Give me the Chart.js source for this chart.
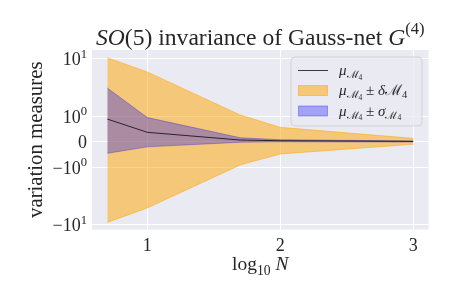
<!DOCTYPE html>
<html>
<head>
<meta charset="utf-8">
<script src="https://cdn.jsdelivr.net/npm/chart.js@4.4.0/dist/chart.umd.min.js"></script>
<style>
  body { margin: 0; background: #fff; }
</style>
</head>
<body>
<canvas id="chart" width="455" height="304"></canvas>
<script>
// log10 N for N = 5, 10, 50, 100, 1000
const logN = [0.699, 1, 1.699, 2, 3];
const mu = [0.89, 0.37, 0.067, 0.04, 0.016];
const deltaUpper = [10.4, 5.9, 1.05, 0.565, 0.134];
const deltaLower = [-9.1, -5.1, -0.91, -0.48, -0.10];
const sigmaUpper = [3.1, 0.95, 0.157, 0.08, 0.03];
const sigmaLower = [-0.455, -0.20, -0.02, 0.0, -0.01];

const xTicks = [1, 2, 3];
const yTicks = [-10, -1, 0, 1, 10];

const FONT = '"Liberation Serif", "DejaVu Serif", serif';
const TEXT = '#262626';

// symlog transform, linthresh 1
const LINSCALE = 0.4435;
function symlog(v) {
  const a = Math.abs(v);
  return a <= 1 ? v * LINSCALE : Math.sign(v) * (LINSCALE + Math.log10(a));
}
function symexp(t) {
  const a = Math.abs(t);
  return a <= LINSCALE ? t / LINSCALE : Math.sign(t) * Math.pow(10, a - LINSCALE);
}

class SymlogScale extends Chart.LinearScale {
  configure() {
    super.configure();
    this._tMin = symlog(this.min);
    this._tMax = symlog(this.max);
  }
  getPixelForValue(value) {
    return this.getPixelForDecimal((symlog(value) - this._tMin) / (this._tMax - this._tMin));
  }
  getValueForPixel(pixel) {
    return symexp(this._tMin + this.getDecimalForPixel(pixel) * (this._tMax - this._tMin));
  }
}
SymlogScale.id = 'symlog';
SymlogScale.defaults = Chart.LinearScale.defaults;
Chart.register(SymlogScale);

const pts = ys => logN.map((x, i) => ({ x: x, y: ys[i] }));

// rich text: [text, italic, scale, shift(em)]
function segFont(s, size) {
  return (s[1] ? 'italic ' : '') + (size * (s[2] || 1)) + 'px ' + FONT;
}
function drawRich(ctx, segs, x, y, size, align) {
  let w = 0;
  segs.forEach(s => { ctx.font = segFont(s, size); w += ctx.measureText(s[0]).width; });
  let cx = align === 'center' ? x - w / 2 : align === 'right' ? x - w : x;
  ctx.textAlign = 'left';
  ctx.textBaseline = 'alphabetic';
  segs.forEach(s => {
    ctx.font = segFont(s, size);
    ctx.fillText(s[0], cx, y + (s[3] || 0) * size);
    cx += ctx.measureText(s[0]).width;
  });
}

const M4 = [['\u2133', false, 0.7, 0.2], ['4', false, 0.5, 0.32]];
const yLabels = {
  '10': [['10'], ['1', false, 0.7, -0.42]],
  '1': [['10'], ['0', false, 0.7, -0.42]],
  '0': [['0']],
  '-1': [['\u221210'], ['0', false, 0.7, -0.42]],
  '-10': [['\u221210'], ['1', false, 0.7, -0.42]]
};

const decorations = {
  id: 'decorations',
  beforeDraw(chart) {
    const { ctx, chartArea: a } = chart;
    ctx.save();
    ctx.fillStyle = '#EAEAF2';
    ctx.fillRect(a.left, a.top, a.right - a.left, a.bottom - a.top);
    ctx.restore();
  },
  afterDraw(chart) {
    const { ctx, chartArea: a } = chart;
    const xs = chart.scales.x, ys = chart.scales.y;
    ctx.save();
    ctx.fillStyle = TEXT;

    // title
    drawRich(ctx, [['SO', true], ['(5) invariance of Gauss-net '], ['G', true], ['(4)', false, 0.7, -0.45]],
      (a.left + a.right) / 2, 45, 23.6, 'center');

    // tick labels
    xTicks.forEach(v => drawRich(ctx, [[String(v)]], xs.getPixelForValue(v), 250.5, 18, 'center'));
    yTicks.forEach(v => drawRich(ctx, yLabels[String(v)], 87, ys.getPixelForValue(v) + 6.5, 18, 'right'));

    // axis titles
    drawRich(ctx, [['log'], ['10', false, 0.7, 0.25], [' '], ['N', true]], (a.left + a.right) / 2, 270, 19.5, 'center');
    ctx.save();
    ctx.translate(35, (a.top + a.bottom) / 2);
    ctx.rotate(-Math.PI / 2);
    drawRich(ctx, [['variation measures']], 0, 6.5, 20.8, 'center');
    ctx.restore();

    // legend
    const lx = 291, ly = 57, lw = 131, lh = 69;
    ctx.beginPath();
    ctx.roundRect(lx, ly, lw, lh, 4);
    ctx.fillStyle = 'rgba(234,234,242,0.8)';
    ctx.fill();
    ctx.strokeStyle = 'rgba(204,204,204,0.8)';
    ctx.lineWidth = 1;
    ctx.stroke();

    ctx.strokeStyle = 'rgba(0,0,0,0.75)';
    ctx.beginPath();
    ctx.moveTo(298, 70.5);
    ctx.lineTo(328, 70.5);
    ctx.stroke();

    ctx.fillStyle = 'rgba(255,165,0,0.5)';
    ctx.strokeStyle = 'rgba(255,165,0,0.5)';
    ctx.fillRect(298.5, 85.5, 29, 10);
    ctx.strokeRect(298.5, 85.5, 29, 10);
    ctx.fillStyle = 'rgba(0,0,255,0.3)';
    ctx.strokeStyle = 'rgba(0,0,255,0.3)';
    ctx.fillRect(298.5, 106, 29, 10);
    ctx.strokeRect(298.5, 106, 29, 10);

    ctx.fillStyle = TEXT;
    drawRich(ctx, [['\u03bc', true]].concat(M4), 339, 75, 15, 'left');
    drawRich(ctx, [['\u03bc', true]].concat(M4, [[' \u00b1 '], ['\u03b4', true], ['\u2133'], ['4', false, 0.7, 0.2]]), 339, 95, 15, 'left');
    drawRich(ctx, [['\u03bc', true]].concat(M4, [[' \u00b1 '], ['\u03c3', true]], M4), 339, 115.5, 15, 'left');
    ctx.restore();
  }
};

new Chart(document.getElementById('chart'), {
  type: 'line',
  data: {
    datasets: [
      { data: pts(mu), borderColor: 'rgba(0,0,0,0.75)', borderWidth: 1, fill: false, order: 0 },
      { data: pts(sigmaUpper), borderColor: 'rgba(0,0,255,0.3)', backgroundColor: 'rgba(0,0,255,0.3)', borderWidth: 1, fill: 2, order: 1 },
      { data: pts(sigmaLower), borderColor: 'rgba(0,0,255,0.3)', borderWidth: 1, fill: false, order: 2 },
      { data: pts(deltaUpper), borderColor: 'rgba(255,165,0,0.5)', backgroundColor: 'rgba(255,165,0,0.5)', borderWidth: 1, fill: 4, order: 3 },
      { data: pts(deltaLower), borderColor: 'rgba(255,165,0,0.5)', borderWidth: 1, fill: false, order: 4 }
    ]
  },
  options: {
    responsive: false,
    animation: false,
    elements: { point: { radius: 0 }, line: { tension: 0 } },
    layout: { padding: { left: 92, right: 26.5, top: 50, bottom: 74.5 } },
    plugins: {
      legend: { display: false },
      tooltip: { enabled: false },
      filler: { drawTime: 'beforeDatasetsDraw' }
    },
    scales: {
      x: {
        type: 'linear',
        min: 0.584,
        max: 3.115,
        afterBuildTicks: s => { s.ticks = xTicks.map(v => ({ value: v })); },
        ticks: { display: false },
        grid: { color: '#ffffff', lineWidth: 1, drawTicks: false },
        border: { display: false }
      },
      y: {
        type: 'symlog',
        min: -12.1,
        max: 14.2,
        afterBuildTicks: s => { s.ticks = yTicks.map(v => ({ value: v })); },
        ticks: { display: false },
        grid: { color: '#ffffff', lineWidth: 1, drawTicks: false },
        border: { display: false }
      }
    }
  },
  plugins: [decorations]
});
</script>
</body>
</html>
